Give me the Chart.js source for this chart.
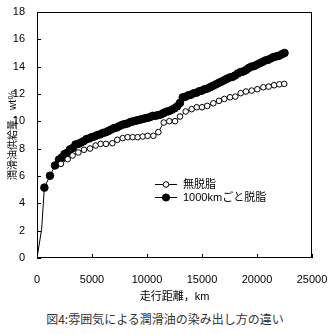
<!DOCTYPE html>
<html lang="ja">
  <head>
    <meta charset="UTF-8" />
    <title>図4</title>
    <script src="https://cdn.jsdelivr.net/npm/chart.js"></script>
    <style>
      html,
      body {
        margin: 0;
        background: #fff;
      }
      #wrap {
        width: 336px;
        height: 304px;
      }
      #caption {
        width: 336px;
        height: 30px;
        line-height: 30px;
        font-family: "Noto Sans CJK JP", sans-serif;
        font-size: 12px;
        color: #333;
        text-align: center;
        padding-right: 6px;
        box-sizing: border-box;
      }
    </style>
  </head>
  <body>
    <div id="wrap"><canvas id="oilChart" width="336" height="304"></canvas></div>
    <div id="caption">図4:雰囲気による潤滑油の染み出し方の違い</div>

    <script>
      const FONT = '"Liberation Sans", "Noto Sans CJK JP", sans-serif';

      // 無脱脂
      const distPlain = [
        2180, 2790, 3240, 3760, 4270, 4820, 5330, 5790, 6270, 6850, 7300,
        7790, 8240, 8700, 9150, 9610, 10060, 10580, 11030, 11520, 12030,
        12550, 13000, 13520, 14060, 14520, 15000, 15480, 16030, 16550, 17030,
        17550, 18030, 18520, 19000, 19520, 20030, 20580, 21060, 21550, 22030,
        22480,
      ];
      const oilPlain = [
        6.89, 7.23, 7.5, 7.72, 7.92, 8.01, 8.23, 8.35, 8.35, 8.4, 8.65, 8.77,
        8.84, 8.84, 8.84, 8.89, 8.94, 8.94, 9.21, 9.91, 10.01, 10.01, 10.35,
        10.72, 10.89, 11.03, 11.03, 11.13, 11.32, 11.5, 11.64, 11.76, 11.81,
        12.06, 12.18, 12.25, 12.35, 12.49, 12.54, 12.64, 12.71, 12.74,
      ];

      // 1000kmごと脱脂 (first two points: unmarked start of the curve)
      const distDegreased = [
        0, 420, 670, 1180, 1640, 2000, 2250, 2500, 2750, 3000, 3250, 3500,
        3750, 4000, 4250, 4500, 4750, 5000, 5250, 5500, 5750, 6000, 6250,
        6500, 6750, 7000, 7250, 7500, 7750, 8000, 8250, 8500, 8750, 9000,
        9250, 9500, 9750, 10000, 10250, 10500, 10750, 11000, 11250, 11500,
        11750, 12000, 12250, 12500, 12750, 13000, 13250, 13500, 13750, 14000,
        14250, 14500, 14750, 15000, 15250, 15500, 15750, 16000, 16250, 16500,
        16750, 17000, 17250, 17500, 17750, 18000, 18250, 18500, 18750, 19000,
        19250, 19500, 19750, 20000, 20250, 20500, 20750, 21000, 21250, 21500,
        21750, 22000, 22250, 22500,
      ];
      const oilDegreased = [
        0, 2.1, 5.15, 6.02, 6.77, 7.2, 7.35, 7.6, 7.7, 7.95, 8.05, 8.3, 8.35,
        8.45, 8.55, 8.7, 8.75, 8.85, 8.9, 9.0, 9.05, 9.15, 9.2, 9.3, 9.4, 9.5,
        9.55, 9.65, 9.75, 9.8, 9.85, 9.95, 10.0, 10.05, 10.1, 10.15, 10.2,
        10.25, 10.3, 10.4, 10.4, 10.45, 10.5, 10.6, 10.7, 10.75, 10.85, 10.95,
        11.1, 11.35, 11.75, 11.8, 11.9, 11.95, 12.05, 12.1, 12.2, 12.25,
        12.35, 12.4, 12.5, 12.6, 12.7, 12.8, 12.9, 13.0, 13.1, 13.2, 13.25,
        13.35, 13.5, 13.6, 13.65, 13.75, 13.9, 14.0, 14.05, 14.15, 14.25,
        14.35, 14.45, 14.5, 14.6, 14.7, 14.75, 14.8, 14.9, 15.0,
      ];

      const xTicks = [0, 5000, 10000, 15000, 20000, 25000];
      const yTicks = [0, 2, 4, 6, 8, 10, 12, 14, 16, 18];

      const labelPlain = "無脱脂";
      const labelDegreased = "1000kmごと脱脂";

      const toPoints = (xs, ys) => xs.map((x, i) => ({ x, y: ys[i] }));

      // frame, inward ticks and the legend inside the plot
      const framePlugin = {
        id: "frame",
        afterDraw(chart) {
          const { ctx, chartArea: a, scales } = chart;
          ctx.save();
          ctx.strokeStyle = "#000";
          ctx.lineWidth = 1;
          ctx.strokeRect(a.left + 0.5, a.top + 0.5, a.width - 1, a.height - 1);
          ctx.beginPath();
          yTicks.forEach((v) => {
            const py = Math.round(scales.y.getPixelForValue(v)) + 0.5;
            ctx.moveTo(a.left, py);
            ctx.lineTo(a.left + 4, py);
          });
          xTicks.forEach((v) => {
            const px = Math.round(scales.x.getPixelForValue(v)) + 0.5;
            ctx.moveTo(px, a.bottom);
            ctx.lineTo(px, a.bottom - 4);
          });
          ctx.stroke();

          // legend
          const rows = [
            { text: labelPlain, fill: "#fff", r: 2.8, y: 184 },
            { text: labelDegreased, fill: "#000", r: 3.6, y: 197 },
          ];
          ctx.font = "11px " + FONT;
          ctx.textBaseline = "middle";
          rows.forEach((row) => {
            ctx.beginPath();
            ctx.moveTo(155, row.y + 0.5);
            ctx.lineTo(177, row.y + 0.5);
            ctx.stroke();
            ctx.beginPath();
            ctx.arc(166, row.y + 0.5, row.r, 0, Math.PI * 2);
            ctx.fillStyle = row.fill;
            ctx.fill();
            ctx.stroke();
            ctx.fillStyle = "#000";
            ctx.fillText(row.text, 183, row.y + 1);
          });
          ctx.restore();
        },
      };

      new Chart(document.getElementById("oilChart"), {
        type: "line",
        data: {
          datasets: [
            {
              label: labelPlain,
              data: toPoints(distPlain, oilPlain),
              borderColor: "#000",
              borderWidth: 1,
              pointRadius: 2.8,
              pointBackgroundColor: "#fff",
              pointBorderColor: "#000",
              pointBorderWidth: 1,
            },
            {
              label: labelDegreased,
              data: toPoints(distDegreased, oilDegreased),
              borderColor: "#000",
              borderWidth: 1,
              pointRadius: (c) => (c.dataIndex < 2 ? 0 : 3.8),
              pointBackgroundColor: "#000",
              pointBorderColor: "#000",
              pointBorderWidth: 1,
            },
          ],
        },
        options: {
          responsive: false,
          animation: false,
          layout: { padding: { left: 0, right: 24, top: 12, bottom: 0 } },
          plugins: {
            legend: { display: false },
            tooltip: { enabled: false },
          },
          scales: {
            x: {
              type: "linear",
              min: 0,
              max: 25000,
              afterBuildTicks: (s) => {
                s.ticks = xTicks.map((v) => ({ value: v }));
              },
              afterFit: (s) => {
                s.height = 46;
              },
              grid: { display: false },
              border: { display: false },
              ticks: {
                padding: 7,
                color: "#000",
                font: { family: FONT, size: 11 },
                maxRotation: 0,
                callback: (v) => String(v),
              },
              title: {
                display: true,
                text: "走行距離，km",
                color: "#000",
                font: { family: FONT, size: 11 },
                padding: { top: 3, bottom: 0 },
              },
            },
            y: {
              min: 0,
              max: 18,
              afterBuildTicks: (s) => {
                s.ticks = yTicks.map((v) => ({ value: v }));
              },
              afterFit: (s) => {
                s.width = 37;
              },
              grid: { display: false },
              border: { display: false },
              ticks: {
                padding: 4,
                color: "#000",
                font: { family: FONT, size: 11 },
              },
              title: {
                display: true,
                text: "潤滑油供給量，wt％",
                color: "#000",
                font: { family: FONT, size: 10 },
                padding: { top: 7, bottom: 0 },
              },
            },
          },
        },
        plugins: [framePlugin],
      });
    </script>
  </body>
</html>
